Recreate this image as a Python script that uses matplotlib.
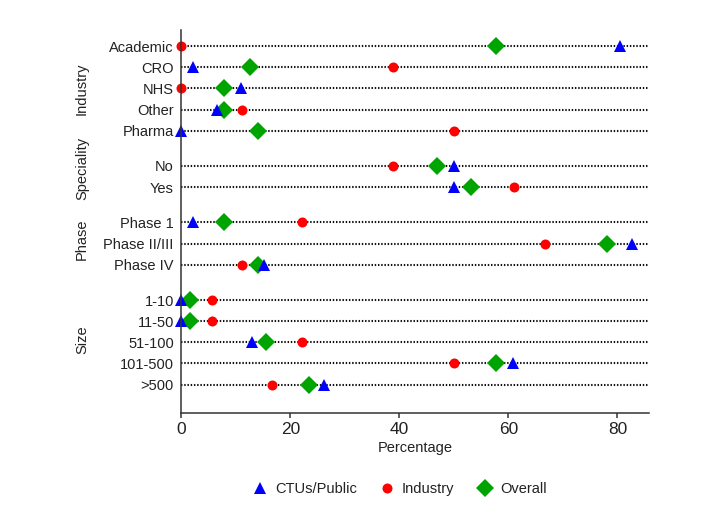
import matplotlib
matplotlib.use('Agg')
import matplotlib.pyplot as plt
import matplotlib.transforms as mtransforms
from matplotlib.lines import Line2D

plt.rcParams['font.family'] = ['Liberation Sans', 'DejaVu Sans']
txt_col = '#222222'

# data (percentages)
groups = ['Industry', 'Speciality', 'Phase', 'Size']
categories = [
    ['Academic', 'CRO', 'NHS', 'Other', 'Pharma'],
    ['No', 'Yes'],
    ['Phase 1', 'Phase II/III', 'Phase IV'],
    ['1-10', '11-50', '51-100', '101-500', '>500'],
]
ctus = [80.4, 2.2, 10.9, 6.5, 0.0,
        50.0, 50.0,
        2.2, 82.6, 15.2,
        0.0, 0.0, 13.0, 60.9, 26.1]
industry = [0.0, 38.9, 0.0, 11.1, 50.0,
            38.9, 61.1,
            22.2, 66.7, 11.1,
            5.6, 5.6, 22.2, 50.0, 16.7]
overall = [57.8, 12.5, 7.8, 7.8, 14.1,
           46.9, 53.1,
           7.8, 78.1, 14.1,
           1.6, 1.6, 15.6, 57.8, 23.4]

# row positions, with a gap between groups
gap = 0.67
pos = []
labels = []
group_mid = []
y = 0.0
for g, cats in enumerate(categories):
    start = y
    for c in cats:
        pos.append(y)
        labels.append(c)
        y += 1
    group_mid.append((start + y - 1) / 2)
    y += gap

xmax = 85.8

fig = plt.figure(figsize=(7.19, 5.23), dpi=100)
ax = fig.add_axes([0.2523, 0.2109, 0.6504, 0.7317])

ax.hlines(pos, 0, xmax, colors='#111111', linestyles=(0, (0.7, 0.85)), linewidth=1.5, zorder=1)

ax.plot(overall, pos, 'D', color='#00a400', markersize=9.5, markeredgewidth=0,
        linestyle='none', clip_on=False, zorder=2, label='Overall')
ax.plot(industry, pos, 'o', color='#ff0000', markersize=7.2, markeredgewidth=0,
        linestyle='none', clip_on=False, zorder=2.1, label='Industry')
ax.plot(ctus, pos, '^', color='#0000ff', markersize=8.6, markeredgewidth=0,
        linestyle='none', clip_on=False, zorder=2.2, label='CTUs/Public')

ax.set_xlim(0, xmax)
ax.set_ylim(17.34, -0.76)
ax.set_yticks(pos)
ax.set_yticklabels(labels)
ax.set_xticks([0, 20, 40, 60, 80])

for s in ['top', 'right']:
    ax.spines[s].set_visible(False)
for s in ['left', 'bottom']:
    ax.spines[s].set_color('#333333')
    ax.spines[s].set_linewidth(1.1)

ax.tick_params(axis='y', length=0, pad=5.5, labelsize=10.5, labelcolor=txt_col)
ax.tick_params(axis='x', length=3.5, width=1.1, color='#333333', pad=3,
               labelsize=12.5, labelcolor=txt_col)
ax.set_xlabel('Percentage', fontsize=10.5, color=txt_col, labelpad=3)

# group labels on the left
trans = mtransforms.blended_transform_factory(ax.transAxes, ax.transData)
offsets = [0.0, -0.4, -0.2, -0.1]
for g, m, o in zip(groups, group_mid, offsets):
    ax.text(-0.2125, m + o, g, transform=trans, rotation=90, ha='center', va='center',
            fontsize=10.5, color=txt_col)

handles = [
    Line2D([], [], marker='^', color='#0000ff', markersize=8.6, linestyle='none', markeredgewidth=0),
    Line2D([], [], marker='o', color='#ff0000', markersize=7.2, linestyle='none', markeredgewidth=0),
    Line2D([], [], marker='D', color='#00a400', markersize=9.5, linestyle='none', markeredgewidth=0),
]
leg = fig.legend(handles, ['CTUs/Public', 'Industry', 'Overall'], loc='center',
                 bbox_to_anchor=(0.556, 1 - 489 / 523), ncol=3, frameon=False,
                 fontsize=10.5, handletextpad=0.5, columnspacing=1.6, handlelength=1.0)
for t in leg.get_texts():
    t.set_color(txt_col)

plt.savefig('out.png', dpi=100)
